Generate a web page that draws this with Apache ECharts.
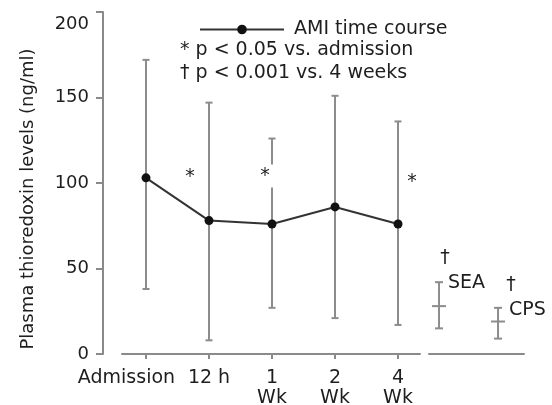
<!DOCTYPE html>
<html>
<head>
<meta charset="utf-8">
<script src="https://cdn.jsdelivr.net/npm/echarts@6.0.0/dist/echarts.min.js"></script>
<style>
  html, body { margin: 0; padding: 0; background: #fff; }
  #chart { width: 552px; height: 405px; }
</style>
</head>
<body>
<div id="chart"></div>
<script>
// AMI time course, plasma thioredoxin (ng/ml): mean with low/high whiskers
const timePoints = [1, 2, 3, 4, 5]
const timeLabels = ['Admission', '12 h', '1\nWk', '2\nWk', '4\nWk']
const amiMean = [103, 78, 76, 86, 76]
const amiLow = [38, 8, 27, 21, 17]
const amiHigh = [172, 147, 126, 151, 136]

// control groups
const groupNames = ['SEA', 'CPS']
const groupPos = [1, 2]
const groupMean = [28, 19]
const groupLow = [15, 9]
const groupHigh = [42, 27]

const yTicks = [0, 50, 100, 150, 200]

const chart = echarts.init(document.getElementById('chart'))
const font = 'DejaVu Sans'
const ink = '#1e1e1e'
const axisGray = '#8a8a8a'
const barGray = '#8c8c8c'

// the first label sits left of its tick in the original figure
const firstLabelShift = 0.31
const labelValues = timePoints.map((v, i) => (i === 0 ? v - firstLabelShift : v))

// vertical whisker with caps, optional mean tick (4th value)
function whisker(capHalf, meanHalf) {
  return function (params, api) {
    const x = api.value(0)
    const top = api.coord([x, api.value(2)])
    const bot = api.coord([x, api.value(1)])
    const st = { stroke: barGray, lineWidth: 2 }
    const kids = [
      { type: 'line', shape: { x1: top[0], y1: top[1], x2: bot[0], y2: bot[1] }, style: st },
      { type: 'line', shape: { x1: top[0] - capHalf, y1: top[1], x2: top[0] + capHalf, y2: top[1] }, style: st },
      { type: 'line', shape: { x1: bot[0] - capHalf, y1: bot[1], x2: bot[0] + capHalf, y2: bot[1] }, style: st },
    ]
    if (meanHalf) {
      const m = api.coord([x, api.value(3)])
      kids.push({ type: 'line', shape: { x1: m[0] - meanHalf, y1: m[1], x2: m[0] + meanHalf, y2: m[1] }, style: st })
    }
    return { type: 'group', children: kids }
  }
}

function note(x, y, text, extra) {
  return {
    type: 'text', x: x, y: y, z: 100,
    style: Object.assign({
      text: text, fontSize: 19, fontFamily: font, fill: ink,
      align: 'center', verticalAlign: 'middle',
    }, extra || {}),
  }
}

const hiddenY = (i) => ({ gridIndex: i, type: 'value', min: 0, max: 200, show: false })

const option = {
  animation: false,
  textStyle: { fontFamily: font, color: ink },
  legend: {
    data: ['AMI time course'],
    left: 194,
    top: 15,
    itemWidth: 84,
    itemHeight: 12,
    itemGap: 0,
    textStyle: { fontSize: 19, color: ink, padding: [0, 0, 0, 5] },
  },
  grid: [
    { left: 103, top: 12, width: 10, bottom: 51, outerBoundsMode: 'none' },
    { left: 122, top: 12, width: 298, bottom: 51, outerBoundsMode: 'none' },
    { left: 429, top: 12, width: 95, bottom: 51, outerBoundsMode: 'none' },
  ],
  xAxis: [
    { gridIndex: 0, type: 'value', show: false },
    {
      gridIndex: 1,
      type: 'value',
      min: 0.619,
      max: 5.349,
      splitLine: { show: false },
      axisLine: { show: true, lineStyle: { color: axisGray, width: 2 } },
      axisTick: { show: true, customValues: timePoints, length: 5, lineStyle: { color: axisGray, width: 2 } },
      axisLabel: {
        customValues: labelValues,
        showMinLabel: true,
        showMaxLabel: true,
        hideOverlap: false,
        margin: 14,
        fontSize: 19,
        lineHeight: 20,
        color: ink,
        formatter: (v) => {
          const i = labelValues.indexOf(v)
          return i < 0 ? '' : timeLabels[i]
        },
      },
    },
    {
      gridIndex: 2,
      type: 'value',
      min: 0.83,
      max: 2.44,
      splitLine: { show: false },
      axisLine: { show: true, lineStyle: { color: axisGray, width: 2 } },
      axisTick: { show: false },
      axisLabel: { show: false },
    },
  ],
  yAxis: [
    {
      gridIndex: 0,
      type: 'value',
      min: 0,
      max: 200,
      interval: 50,
      splitLine: { show: false },
      axisLine: { show: true, lineStyle: { color: axisGray, width: 2 } },
      axisTick: { show: true, length: 7, lineStyle: { color: axisGray, width: 2 } },
      axisLabel: {
        margin: 14,
        fontSize: 18,
        color: ink,
        formatter: (v) => (v === yTicks[yTicks.length - 1] ? '{top|' + v + '}' : String(v)),
        rich: { top: { fontSize: 18, fontFamily: font, color: ink, padding: [24, 0, 0, 0] } },
      },
    },
    hiddenY(1),
    hiddenY(2),
  ],
  graphic: [
    Object.assign(note(28, 199, 'Plasma thioredoxin levels (ng/ml)', { fontSize: 18 }), { rotation: Math.PI / 2 }),
    note(180, 50, '* p < 0.05 vs. admission', { align: 'left' }),
    note(180, 73, '† p < 0.001 vs. 4 weeks', { align: 'left' }),
    note(190, 177, '*'),
    note(265, 176, '*', { backgroundColor: '#fff', padding: [2, 6] }),
    note(412, 182, '*'),
    note(445, 258, '†'),
    note(511, 285, '†'),
    note(448, 283, groupNames[0], { align: 'left' }),
    note(509, 310, groupNames[1], { align: 'left' }),
  ],
  series: [
    {
      type: 'custom',
      xAxisIndex: 1,
      yAxisIndex: 1,
      renderItem: whisker(3.5, 0),
      data: timePoints.map((x, i) => [x, amiLow[i], amiHigh[i]]),
      z: 2,
    },
    {
      type: 'line',
      name: 'AMI time course',
      xAxisIndex: 1,
      yAxisIndex: 1,
      data: timePoints.map((x, i) => [x, amiMean[i]]),
      symbol: 'circle',
      symbolSize: 9,
      lineStyle: { color: '#333', width: 2 },
      itemStyle: { color: '#111' },
      z: 3,
    },
    {
      type: 'custom',
      xAxisIndex: 2,
      yAxisIndex: 2,
      renderItem: whisker(4, 7),
      data: groupPos.map((x, i) => [x, groupLow[i], groupHigh[i], groupMean[i]]),
      z: 2,
    },
  ],
}

chart.setOption(option)
</script>
</body>
</html>
